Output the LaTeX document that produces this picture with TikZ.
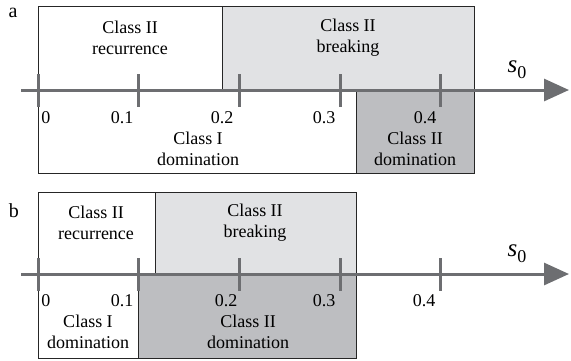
\documentclass[tikz,border=0pt]{standalone}
\usepackage{fontspec}
\setmainfont{Liberation Serif}
\usetikzlibrary{arrows.meta}
\usetikzlibrary{positioning}
\definecolor{breakgray}{RGB}{225,226,228}
\definecolor{domgray}{RGB}{189,190,193}
\definecolor{axisgray}{RGB}{109,110,113}
\tikzstyle{region}=[draw=black!85,line width=0.8pt]
\tikzstyle{classtext}=[font=\fontsize{18}{21}\selectfont,align=center,inner sep=0pt]
\tikzstyle{ticktext}=[font=\fontsize{18}{18}\selectfont,inner sep=0pt]
\tikzstyle{panel}=[font=\fontsize{20}{20}\selectfont,inner sep=0pt]
\tikzstyle{axis}=[draw=axisgray,line width=3pt,-{Triangle[length=25pt,width=22pt]}]
\tikzstyle{tickmark}=[draw=axisgray,line width=3pt]
\newcommand{\szero}{\fontsize{25}{25}\selectfont\textit{s}\raisebox{-6pt}{\fontsize{18}{18}\selectfont 0}}

\begin{document}
\begin{tikzpicture}[x=1pt,y=-1pt]

  \useasboundingbox (0,0) rectangle (571,360);

  % panel a
  \draw[region,fill=white] (38,6) rectangle (222,90);
  \draw[region,fill=breakgray] (222,6) rectangle (474,90);
  \draw[region,fill=white] (38,90) rectangle (356,173);
  \draw[region,fill=domgray] (356,90) rectangle (474,173);

  \coordinate (astart) at (21,90);
  \coordinate (aend) at (569,90);
  \draw[axis] (astart) -- (aend);
  \foreach \x in {38,138,239,340,440}
    \draw[tickmark] (\x,74) -- (\x,107);

  \foreach \pos/\name/\val in {{(46,118)/a0/0}, {(122,118)/a1/0.1}, {(222,118)/a2/0.2}, {(324,118)/a3/0.3}, {(425,118)/a4/0.4}}
    \node[ticktext] (\name) at \pos {\val};

  \node[panel] (la) at (13,13) {a};
  \node[classtext] (arec) at (130,38) {Class II\\recurrence};
  \node[classtext] (abreak) at (348,38) {Class II\\breaking};
  \node[classtext] (adomI) at (198,149) {Class I\\domination};
  \node[classtext] (adomII) at (415,149) {Class II\\domination};
  \node (sa) at (517,70) {\szero};

  % panel b
  \draw[region,fill=white] (38,192) rectangle (155,274);
  \draw[region,fill=breakgray] (155,192) rectangle (356,274);
  \draw[region,fill=white] (38,274) rectangle (138,358);
  \draw[region,fill=domgray] (138,274) rectangle (356,358);

  \coordinate (bstart) at (21,274);
  \coordinate (bend) at (569,274);
  \draw[axis] (bstart) -- (bend);
  \foreach \x in {38,138,239,340,440}
    \draw[tickmark] (\x,258) -- (\x,291);

  \foreach \pos/\name/\val in {{(46,301)/b0/0}, {(122,301)/b1/0.1}, {(226,301)/b2/0.2}, {(324,301)/b3/0.3}, {(424,301)/b4/0.4}}
    \node[ticktext] (\name) at \pos {\val};

  \node[panel] (lb) at (14,211) {b};
  \node[classtext] (brec) at (96,223) {Class II\\recurrence};
  \node[classtext] (bbreak) at (255,223) {Class II\\breaking};
  \node[classtext] (bdomI) at (88,332) {Class I\\domination};
  \node[classtext] (bdomII) at (248,332) {Class II\\domination};
  \node (sb) at (517,254) {\szero};

\end{tikzpicture}
\end{document}
